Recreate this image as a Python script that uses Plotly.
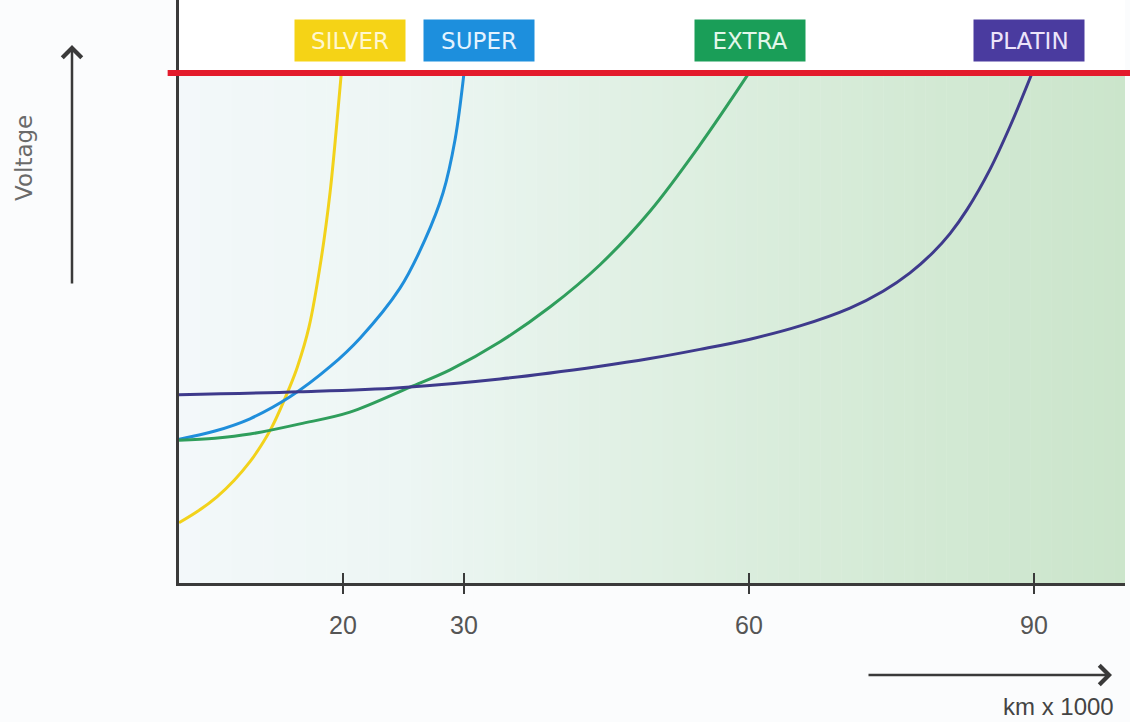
import numpy as np
import plotly.graph_objects as go

# ---- data -------------------------------------------------------------
# Mileage in thousands of km; the x axis of this schematic is stretched
# non-uniformly, described by the knot lists below.
KM_KNOTS = [0, 20, 30, 60, 90, 100]
AXIS_KNOTS = [0, 17.26, 30, 60, 90, 100]

KM_TICKS = [20, 30, 60, 90]
TICK_LABELS = ["20", "30", "60", "90"]

LIMIT_VOLTAGE = 100  # red limit line

silver_km = [0, 2.32, 4.63, 6.71, 8.66, 10.0, 11.34, 13.5, 14.45, 15.86, 17.32, 18.42, 19.21, 19.8]
silver_v = [11.8, 14.1, 16.9, 20.1, 23.8, 26.9, 30.6, 38.4, 42.4, 50.2, 63.3, 76.5, 89.4, 100]

super_km = [0, 4.39, 8.66, 13.54, 18.42, 21.41, 24.71, 26.78, 28.27, 29.26, 30]
super_v = [28.2, 29.8, 32.2, 36.5, 42.4, 48.0, 57.8, 67.3, 76.5, 86.9, 100]

extra_km = [0, 4.39, 8.66, 14.76, 20.58, 25.54, 28.85, 33.8, 39.05, 44.32, 49.58, 54.84, 60]
extra_v = [28.0, 28.4, 29.2, 31.2, 33.5, 38.4, 41.8, 47.3, 54.1, 62.4, 72.9, 85.9, 100]

platin_km = [0, 14.76, 24.71, 33.79, 44.32, 49.58, 54.84, 60.11, 65.37, 70.63, 74.11,
             76.95, 79.37, 81.16, 82.95, 85.37, 87.47, 89.8]
platin_v = [36.9, 37.5, 38.3, 40.0, 42.5, 44.0, 45.8, 47.8, 50.4, 53.9, 57.2,
            60.8, 64.8, 68.5, 73.2, 81.1, 89.5, 100]

SERIES = [
    ("SILVER", silver_km, silver_v, "#F2D21B", "#F5D316", "#FFF7CF", 9),
    ("SUPER", super_km, super_v, "#1F8EDB", "#1D8FDD", "#E4F3FF", 15),
    ("EXTRA", extra_km, extra_v, "#2F9E5C", "#1A9E58", "#E3F7EA", 1),
    ("PLATIN", platin_km, platin_v, "#3E3A8C", "#4A3B9F", "#ECE4FA", -3),
]


def warp(km):
    return np.interp(np.asarray(km, dtype=float), KM_KNOTS, AXIS_KNOTS)


X_MAX = 99.58
Y_MAX = 114.3

fig = go.Figure()

for name, km, v, line_col, box_col, txt_col, dx in SERIES:
    fig.add_trace(go.Scatter(
        x=warp(km), y=v, mode="lines", name=name,
        line=dict(color=line_col, width=3, shape="spline", smoothing=1.0),
        showlegend=False, hoverinfo="skip",
    ))
    fig.add_annotation(
        x=float(warp([km[-1]])[0]), xref="x", y=0.9297, yref="paper",
        text=name, showarrow=False, xshift=dx,
        width=104, height=35, borderpad=3, bgcolor=box_col,
        font=dict(family="DejaVu Sans, Lato, sans-serif", size=23, color=txt_col),
        xanchor="center", yanchor="middle",
    )

# empty trace so the overlaid tick axis is drawn
fig.add_trace(go.Scatter(x=[], y=[], xaxis="x2", showlegend=False))

# background: white to pale green gradient below the limit line
stops_px = [179, 400, 600, 800, 1125]
stops_rgb = [(243, 248, 250), (237, 246, 244), (226, 241, 230), (216, 236, 218), (203, 229, 203)]
n_strips = 90
edges = np.linspace(0, X_MAX, n_strips + 1)
for i in range(n_strips):
    mid_px = 179 + (edges[i] + edges[i + 1]) / 2 * 9.5
    rgb = [int(round(np.interp(mid_px, stops_px, [c[k] for c in stops_rgb]))) for k in range(3)]
    fig.add_shape(type="rect", xref="x", yref="y",
                  x0=edges[i], x1=edges[i + 1] + 0.05, y0=0, y1=LIMIT_VOLTAGE,
                  fillcolor=f"rgb({rgb[0]},{rgb[1]},{rgb[2]})", line=dict(width=0),
                  layer="below")

# limit line
fig.add_shape(type="line", xref="paper", yref="y", x0=-0.012, x1=1.01,
              y0=LIMIT_VOLTAGE, y1=LIMIT_VOLTAGE,
              line=dict(color="#E31B2C", width=6), layer="above")

# axis arrows and titles
AX_COL = "#3a3a3a"
fig.add_annotation(xref="paper", yref="paper", x=(72 - 179) / 946, y=(583 - 45) / 583,
                   ax=0, ay=240, text="", showarrow=True, arrowhead=4,
                   arrowsize=1.5, arrowwidth=2.5, arrowcolor=AX_COL, standoff=0)
fig.add_annotation(xref="paper", yref="paper", x=(1112 - 179) / 946, y=(583 - 675) / 583,
                   ax=-245, ay=0, text="", showarrow=True, arrowhead=4,
                   arrowsize=1.5, arrowwidth=2.5, arrowcolor=AX_COL, standoff=0)
fig.add_annotation(xref="paper", yref="paper", x=(24 - 179) / 946, y=(583 - 158) / 583,
                   text="Voltage", textangle=-90, showarrow=False,
                   font=dict(family="DejaVu Sans, sans-serif", size=23, color="#6a6a6a"),
                   xanchor="center", yanchor="middle")
fig.add_annotation(xref="paper", yref="paper", x=(1058 - 179) / 946, y=(583 - 706) / 583,
                   text="km x 1000", showarrow=False,
                   font=dict(family="Liberation Sans Narrow, Liberation Sans, sans-serif",
                             size=24, color="#444444"),
                   xanchor="center", yanchor="middle")

tick_pos = warp(KM_TICKS)

fig.update_layout(
    width=1130, height=722,
    margin=dict(l=179, r=5, t=0, b=139),
    paper_bgcolor="#FBFCFD", plot_bgcolor="#FFFFFF",
    xaxis=dict(range=[0, X_MAX], showgrid=False, zeroline=False,
               showline=True, linecolor=AX_COL, linewidth=2.5,
               tickmode="array", tickvals=tick_pos, ticktext=TICK_LABELS,
               ticks="outside", ticklen=8, tickwidth=2, tickcolor=AX_COL,
               ticklabelstandoff=10,
               tickfont=dict(family="Liberation Sans Narrow, Liberation Sans, sans-serif",
                             size=25, color="#555555")),
    xaxis2=dict(range=[0, X_MAX], overlaying="x", anchor="y", side="bottom",
                showgrid=False, zeroline=False, showline=False,
                tickmode="array", tickvals=tick_pos, showticklabels=False,
                ticks="inside", ticklen=10, tickwidth=2, tickcolor=AX_COL),
    yaxis=dict(range=[0, Y_MAX], showgrid=False, zeroline=False,
               showline=True, linecolor=AX_COL, linewidth=2.5,
               showticklabels=False, ticks=""),
)

fig.write_html("out.html")
